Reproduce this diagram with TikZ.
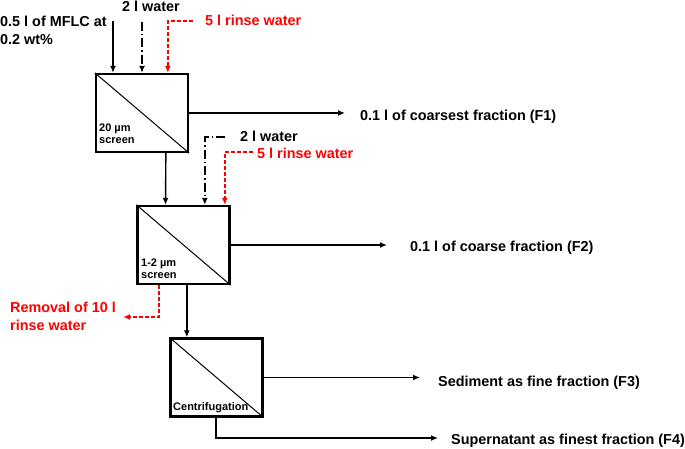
\documentclass[tikz,border=0pt]{standalone}
\usepackage{fontspec}
\setmainfont{Liberation Sans}
\usetikzlibrary{arrows.meta,calc}
\definecolor{rinse}{RGB}{255,0,0}
\begin{document}
\begin{tikzpicture}[x=1pt,y=-1pt,
  proc/.style={draw, line width=2.3pt, minimum width=92pt, minimum height=78pt, inner sep=0pt},
  lbl/.style={font=\fontsize{14.4}{18}\selectfont\bfseries, inner sep=0pt, anchor=base west, align=left},
  small/.style={font=\fontsize{11}{12}\selectfont\bfseries, inner sep=0pt, anchor=base west, align=left},
  arr/.style={line width=1.4pt, -{Latex[length=7pt,width=6pt]}},
  dd/.style={arr, dash pattern=on 9pt off 3pt on 1.5pt off 3pt},
  rd/.style={arr, rinse, dash pattern=on 4pt off 2pt},
  diag/.style={line width=1pt}
]
\useasboundingbox (0,0) rectangle (685,449);

% boxes
\node[proc] (b1) at (142,113) {};
\node[proc] (b2) at (183.5,245) {};
\node[proc] (b3) at (216.5,377.5) {};
\draw[diag] (b1.north west) -- (b1.south east);
\draw[diag] (b2.north west) -- (b2.south east);
\draw[diag] (b3.north west) -- (b3.south east);

% box labels (anchor = baseline of last line)
\node[small] (l1) at (99,144) {20 µm\\screen};
\node[small] (l2) at (141,278) {1-2 µm\\screen};
\node[small] (l3) at (173,410) {Centrifugation};

% texts
\node[lbl] (tmflc) at (0,45) {0.5 l of MFLC at\\[0pt]0.2 wt\%};
\node[lbl] (tw1) at (122,12) {2 l water};
\node[lbl, text=rinse] (tr1) at (205,26) {5 l rinse water};
\node[lbl] (tf1) at (360,121) {0.1 l of coarsest fraction (F1)};
\node[lbl] (tw2) at (240,142) {2 l water};
\node[lbl, text=rinse] (tr2) at (257,159) {5 l rinse water};
\node[lbl] (tf2) at (410,251) {0.1 l of coarse fraction (F2)};
\node[lbl, text=rinse] (trem) at (10,330) {Removal of 10 l\\[0pt]rinse water};
\node[lbl] (tf3) at (438,386) {Sediment as fine fraction (F3)};
\node[lbl] (tf4) at (451,444) {Supernatant as finest fraction (F4)};

% connector ends
\coordinate (s1) at (113,21);
\coordinate (s2) at (142,22);
\coordinate (s3) at (193,21);
\coordinate (e1) at (345,113);
\coordinate (s4) at (225,137);
\coordinate (s5) at (253,152);
\coordinate (e2) at (387,245);
\coordinate (rem) at (123,317);
\coordinate (e3) at (420,377.5);
\coordinate (e4) at (438,438);

% box 1
\draw[arr] (s1) -- (s1 |- b1.north);
\draw[dd] (s2) -- (s2 |- b1.north);
\draw[rd] (s3) -| ($(b1.north west)+(73,0)$);
\draw[arr] (b1.east) -- (e1);
\draw[arr] ($(b1.south west)+(71,0)$) -- ($(b2.north west)+(29.2,0)$);

% box 2
\draw[dd] (s4) -| ($(b2.north west)+(68.5,0)$);
\draw[rd] (s5) -| ($(b2.north west)+(88.5,0)$);
\draw[arr] (b2.east) -- (e2);
\draw[rd] ($(b2.south west)+(22.5,0)$) |- (rem);
\draw[arr] ($(b2.south west)+(50.5,0)$) -- ($(b3.north west)+(17.5,0)$);

% box 3
\draw[arr] (b3.east) -- (e3);
\draw[arr] ($(b3.south west)+(46.5,0)$) |- (e4);
\end{tikzpicture}
\end{document}
